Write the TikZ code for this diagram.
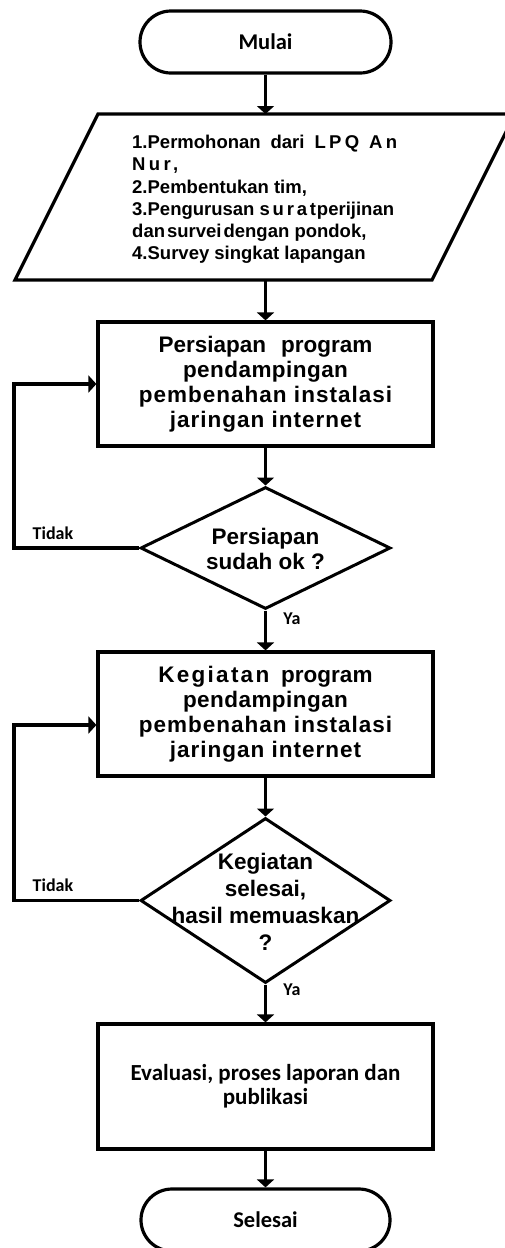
\documentclass[tikz,border=0pt]{standalone}
\usepackage{fontspec}
\setmainfont{Liberation Sans}
\newfontfamily\calfont{Carlito}
\usetikzlibrary{shapes.geometric,arrows.meta}
\newcommand{\wide}[2]{{\addfontfeatures{LetterSpace=#1}#2}}
\begin{document}
\begin{tikzpicture}[x=1pt,y=-1pt,
  box/.style={draw, line width=3.2pt, minimum width=335pt, minimum height=124pt, inner sep=0pt, align=center},
  term/.style={draw, line width=3.2pt, rounded corners=31pt, minimum width=251pt, minimum height=62pt, inner sep=0pt},
  dia/.style={draw, diamond, line width=3pt, minimum width=250pt, minimum height=122pt, inner sep=0pt},
  arr/.style={line width=3.2pt, -{Triangle[width=17pt,length=8pt]}},
  ln/.style={line width=3.2pt, line join=miter},
  big/.style={font=\bfseries\fontsize{22.5}{25}\selectfont, align=center, inner sep=0pt},
  termtxt/.style={font=\calfont\bfseries\fontsize{22.5}{25}\selectfont},
  lbl/.style={font=\calfont\bfseries\fontsize{18}{20}\selectfont, inner sep=0pt}
]
\useasboundingbox (0,0) rectangle (504,1248);
% start
\node[term, termtxt] (start) at (265.5,42) {Mulai};
% parallelogram
\coordinate (pa) at (98,114);
\coordinate (pb) at (515,114);
\coordinate (pc) at (432,280);
\coordinate (pd) at (15,280);
\draw[ln] (pa) -- (pb) -- (pc) -- (pd) -- cycle;
\coordinate (iotop) at (265.5,114);
\coordinate (iobot) at (265.5,280);
\node[anchor=west, align=left, inner sep=0pt, font=\bfseries\fontsize{18.5}{22.3}\selectfont] (iotxt) at (132,199.5)
 {\makebox[265pt][s]{1.Permohonan dari \wide{18}{LPQ} \wide{18}{An}}\\
  \wide{18}{Nur,}\\
  2.Pembentukan tim,\\
  3.Pengurusan \wide{15}{surat}\hspace{1pt}perijinan\\
  dan\hspace{2pt}survei\hspace{2pt}dengan pondok,\\
  4.Survey singkat lapangan};
\draw[arr] (start) -- (iotop);
% box 1
\node[box, big] (prep) at (265.5,384) {Persiapan\hspace{15pt}program\\\wide{2}{pendampingan}\\\wide{4.5}{pembenahan instalasi}\\\wide{4.5}{jaringan internet}};
\draw[arr] (iobot) -- (prep);
% diamond 1
\node[dia] (d1) at (265.5,548) {};
\node[big] (d1t) at (265.5,549) {Persiapan\\sudah ok ?};
\draw[arr] (prep) -- (d1);
\coordinate (l1) at (14,548);
\draw[arr] (d1.west) -- (l1) |- (prep.west);
\node[lbl] (t1) at (53,533) {Tidak};
\node[lbl] (y1) at (292,619) {Ya};
% box 2
\node[box, big] (keg) at (265.5,714) {\wide{10}{Kegiatan}\hspace{12pt}program\\\wide{2}{pendampingan}\\\wide{4.5}{pembenahan instalasi}\\\wide{4.5}{jaringan internet}};
\draw[arr] (d1) -- (keg);
% diamond 2
\node[dia, minimum height=165pt] (d2) at (265.5,900.5) {};
\node[big, font=\bfseries\fontsize{22.5}{27}\selectfont] (d2t) at (265.5,902) {Kegiatan\\selesai,\\hasil memuaskan\\?};
\draw[arr] (keg) -- (d2);
\coordinate (l2b) at (14,900.5);
\coordinate (l2t) at (14,725);
\draw[arr] (d2.west) -- (l2b) -- (l2t) -- (l2t -| keg.west);
\node[lbl] (t2) at (53,885) {Tidak};
\node[lbl] (y2) at (292,990) {Ya};
% box 3
\node[box, minimum height=125pt, font=\calfont\bfseries\fontsize{23}{24}\selectfont] (eval) at (265.5,1086.5) {Evaluasi, proses laporan dan\\publikasi};
\draw[arr] (d2) -- (eval);
% end
\node[term, termtxt, minimum width=249pt] (end) at (265.5,1220) {Selesai};
\draw[arr] (eval) -- (end);
\end{tikzpicture}
\end{document}
